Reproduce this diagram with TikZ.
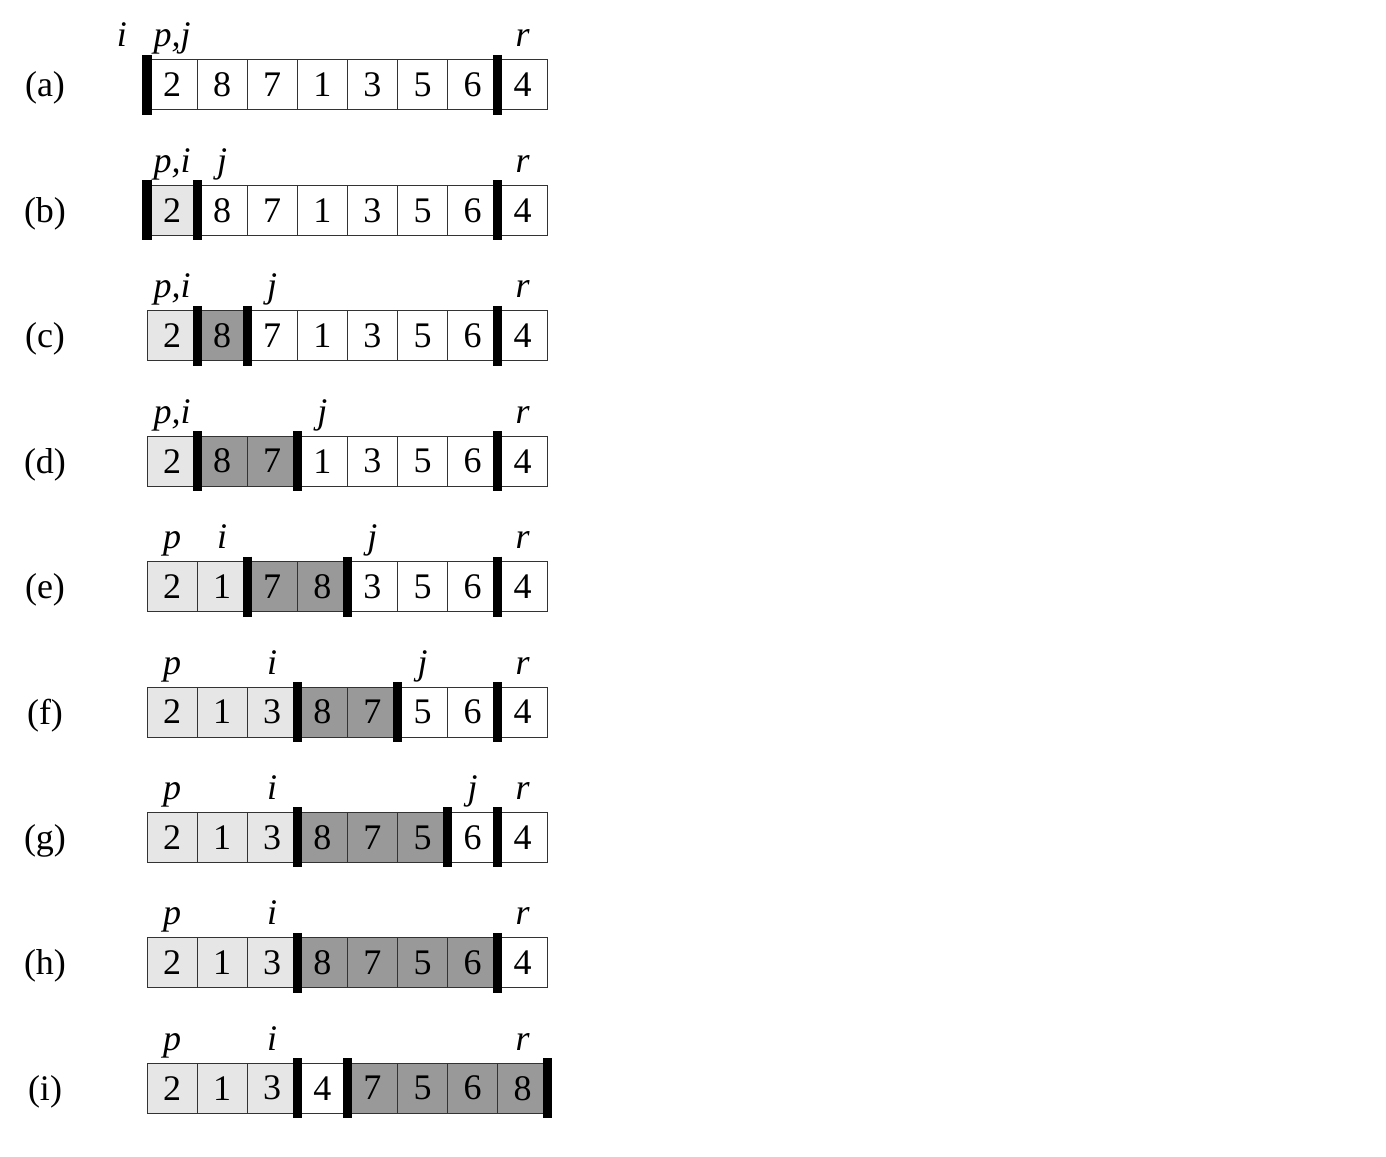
\documentclass[tikz,border=0pt]{standalone}
\usepackage{fontspec}
\setmainfont{Liberation Serif}
\definecolor{lg}{HTML}{E6E6E6}
\definecolor{dg}{HTML}{999999}
\tikzset{
  cellW/.style={draw=black!80, line width=0.5pt, fill=white, minimum width=25pt, minimum height=25pt, inner sep=0pt, outer sep=0pt, font=\fontsize{18}{20}\selectfont},
  cellL/.style={cellW, fill=lg},
  cellD/.style={cellW, fill=dg},
  sepbar/.style={line width=4.6pt, black},
  ptr/.style={font=\fontsize{18}{20}\selectfont\itshape, anchor=base, inner sep=0pt},
  rowlab/.style={font=\fontsize{18}{20}\selectfont, anchor=base, inner sep=0pt}
}
\newcommand\drawarrrow[5]{%
  \node[rowlab] (lab#1) at (45, {85+125.4*#1+12}) {(#2)};
  \foreach \v/\t [count=\k from 0] in {#3} {
    \node[cell\t] (c#1-\k) at ({172+50.1*\k},{85+125.4*#1}) {\v};
  }
  \foreach \b in {#4} {
    \draw[sepbar] ({147+50.1*\b},{85+125.4*#1-30}) -- ({147+50.1*\b},{85+125.4*#1+30});
  }
  \foreach \k/\t in {#5} {
    \node[ptr] (p#1-\k) at ({172+50.1*\k},{85+125.4*#1-38}) {\t};
  }
}
\begin{document}
\begin{tikzpicture}[x=0.5pt,y=-0.5pt]
\useasboundingbox (0,0) rectangle (1386,1156);
\drawarrrow{0}{a}{2/W,8/W,7/W,1/W,3/W,5/W,6/W,4/W}{0,7}{-1/i,0/{p,j},7/r}
\drawarrrow{1}{b}{2/L,8/W,7/W,1/W,3/W,5/W,6/W,4/W}{0,1,7}{0/{p,i},1/j,7/r}
\drawarrrow{2}{c}{2/L,8/D,7/W,1/W,3/W,5/W,6/W,4/W}{1,2,7}{0/{p,i},2/j,7/r}
\drawarrrow{3}{d}{2/L,8/D,7/D,1/W,3/W,5/W,6/W,4/W}{1,3,7}{0/{p,i},3/j,7/r}
\drawarrrow{4}{e}{2/L,1/L,7/D,8/D,3/W,5/W,6/W,4/W}{2,4,7}{0/p,1/i,4/j,7/r}
\drawarrrow{5}{f}{2/L,1/L,3/L,8/D,7/D,5/W,6/W,4/W}{3,5,7}{0/p,2/i,5/j,7/r}
\drawarrrow{6}{g}{2/L,1/L,3/L,8/D,7/D,5/D,6/W,4/W}{3,6,7}{0/p,2/i,6/j,7/r}
\drawarrrow{7}{h}{2/L,1/L,3/L,8/D,7/D,5/D,6/D,4/W}{3,7}{0/p,2/i,7/r}
\drawarrrow{8}{i}{2/L,1/L,3/L,4/W,7/D,5/D,6/D,8/D}{3,4,8}{0/p,2/i,7/r}
\end{tikzpicture}
\end{document}
